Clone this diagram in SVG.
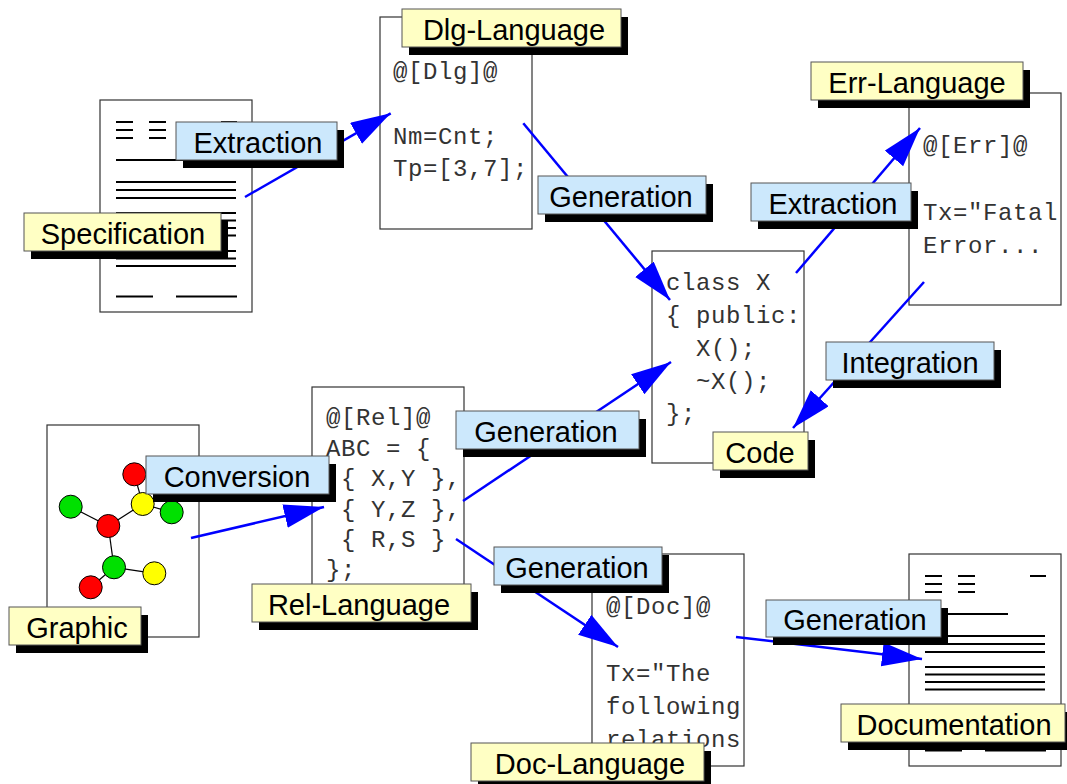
<svg xmlns="http://www.w3.org/2000/svg" xmlns:xlink="http://www.w3.org/1999/xlink" width="1067" height="784" viewBox="0 0 1067 784">
<style>
.doc{fill:#fff;stroke:#333;stroke-width:1.2}
.pl{stroke:#000;stroke-width:2.2;fill:none}
.code{font-family:"Liberation Mono","Courier New",monospace;font-size:24px;letter-spacing:0.6px;fill:#333;white-space:pre}
.sh{fill:#000}
.ly{fill:#ffffc4;stroke:#555;stroke-width:1}
.lb{fill:#cce8fc;stroke:#555;stroke-width:1}
.lt{font-family:"Liberation Sans",Arial,sans-serif;font-size:29px;text-anchor:middle;fill:#000}
.edge{stroke:#0000ff;stroke-width:2.5;fill:none;marker-end:url(#ah)}
.ge{stroke:#000;stroke-width:1.2}
.nd{stroke:#000;stroke-width:1}
</style>
<defs>
<marker id="ah" markerUnits="userSpaceOnUse" markerWidth="42" markerHeight="26" refX="40" refY="12" orient="auto">
<path d="M0,0 L40,12 L0,24 Z" fill="#0000ff"/>
</marker>
<g id="page">
<path class="pl" d="M16,22H33M16,30H33M16,38H33M49,22H66M49,30H66M49,38H66M121,22H137M16,60H99M16,82H136M16,90H136M16,98H136M16,113H136M16,120.5H136M16,128H136M16,135.5H136M16,151H136M16,158.5H136M16,166H136M16,196.5H53M76,196.5H137"/>
</g>
</defs>

<g id="specification">
<rect class="doc" x="100" y="100" width="152" height="212"/>
<use href="#page" x="100" y="100"/>
<rect class="sh" x="31" y="221" width="197" height="38"/>
<rect class="ly" x="24" y="213" width="197" height="38"/>
<text class="lt" x="123" y="243.5">Specification</text>
</g>

<g id="dlg-language">
<rect class="doc" x="380" y="17" width="152" height="212"/>
<text class="code" x="393" y="79">@[Dlg]@</text>
<text class="code" x="393" y="144">Nm=Cnt;</text>
<text class="code" x="393" y="176">Tp=[3,7];</text>
<rect class="sh" x="409" y="17" width="219" height="38"/>
<rect class="ly" x="402" y="9" width="219" height="38"/>
<text class="lt" x="514" y="40">Dlg-Language</text>
</g>

<g id="err-language">
<rect class="doc" x="909" y="93" width="152" height="212"/>
<text class="code" x="923" y="153">@[Err]@</text>
<text class="code" x="923" y="220">Tx="Fatal</text>
<text class="code" x="923" y="253">Error...</text>
<rect class="sh" x="818" y="70" width="212" height="38"/>
<rect class="ly" x="811" y="62" width="212" height="38"/>
<text class="lt" x="917" y="93">Err-Language</text>
</g>

<g id="code">
<rect class="doc" x="652" y="251" width="152" height="212"/>
<text class="code" x="666" y="290">class X</text>
<text class="code" x="666" y="323" xml:space="preserve">{ public:</text>
<text class="code" x="666" y="356" xml:space="preserve">  X();</text>
<text class="code" x="666" y="389" xml:space="preserve">  ~X();</text>
<text class="code" x="666" y="421">};</text>
<rect class="sh" x="720" y="440" width="95" height="38"/>
<rect class="ly" x="713" y="432" width="95" height="38"/>
<text class="lt" x="760" y="463">Code</text>
</g>

<g id="graphic">
<rect class="doc" x="47" y="425" width="152" height="212"/>
<g class="ge">
<line x1="70.7" y1="506.7" x2="108.3" y2="526"/>
<line x1="108.3" y1="526" x2="142.7" y2="504"/>
<line x1="142.7" y1="504" x2="134.3" y2="474.3"/>
<line x1="142.7" y1="504" x2="171.7" y2="512.3"/>
<line x1="108.3" y1="526" x2="114" y2="567.3"/>
<line x1="114" y1="567.3" x2="154.3" y2="573.3"/>
<line x1="114" y1="567.3" x2="90.7" y2="587.3"/>
</g>
<circle class="nd" cx="134.3" cy="474.3" r="11.5" fill="#ff0000"/>
<circle class="nd" cx="70.7" cy="506.7" r="11.5" fill="#00e000"/>
<circle class="nd" cx="142.7" cy="504" r="11.5" fill="#ffff00"/>
<circle class="nd" cx="171.7" cy="512.3" r="11.5" fill="#00e000"/>
<circle class="nd" cx="108.3" cy="526" r="11.5" fill="#ff0000"/>
<circle class="nd" cx="114" cy="567.3" r="11.5" fill="#00e000"/>
<circle class="nd" cx="154.3" cy="573.3" r="11.5" fill="#ffff00"/>
<circle class="nd" cx="90.7" cy="587.3" r="11.5" fill="#ff0000"/>
<rect class="sh" x="16" y="615" width="132" height="38"/>
<rect class="ly" x="9" y="607" width="132" height="38"/>
<text class="lt" x="77" y="638">Graphic</text>
</g>

<g id="rel-language">
<rect class="doc" x="312" y="387" width="152" height="212"/>
<text class="code" x="326" y="425">@[Rel]@</text>
<text class="code" x="326" y="455.5" xml:space="preserve">ABC = {</text>
<text class="code" x="326" y="486" xml:space="preserve"> { X,Y },</text>
<text class="code" x="326" y="516.5" xml:space="preserve"> { Y,Z },</text>
<text class="code" x="326" y="546.5" xml:space="preserve"> { R,S }</text>
<text class="code" x="326" y="577">};</text>
<rect class="sh" x="259" y="592" width="219" height="38"/>
<rect class="ly" x="252" y="584" width="219" height="38"/>
<text class="lt" x="359" y="615">Rel-Language</text>
</g>

<g id="doc-language">
<rect class="doc" x="592" y="554" width="152" height="212"/>
<text class="code" x="606" y="614">@[Doc]@</text>
<text class="code" x="606" y="680.5">Tx="The</text>
<text class="code" x="606" y="713.5">following</text>
<text class="code" x="606" y="746.5">relations</text>
<rect class="sh" x="478" y="751" width="233" height="38"/>
<rect class="ly" x="471" y="743" width="233" height="38"/>
<text class="lt" x="590" y="774">Doc-Language</text>
</g>

<g id="documentation">
<rect class="doc" x="909" y="554" width="152" height="212"/>
<use href="#page" x="909" y="554"/>
<rect class="sh" x="848" y="712" width="224" height="38"/>
<rect class="ly" x="841" y="704" width="224" height="38"/>
<text class="lt" x="954" y="735">Documentation</text>
</g>

<g id="connectors">
<line class="edge" x1="245" y1="197" x2="390.7" y2="113.3"/>
<line class="edge" x1="523.3" y1="123.3" x2="670" y2="300"/>
<line class="edge" x1="796" y1="273" x2="920" y2="128"/>
<line class="edge" x1="924" y1="282" x2="793" y2="428"/>
<line class="edge" x1="191" y1="538" x2="324" y2="507"/>
<line class="edge" x1="463" y1="501" x2="671" y2="362"/>
<line class="edge" x1="456" y1="539" x2="618" y2="647"/>
<line class="edge" x1="736" y1="637" x2="922" y2="659"/>
</g>

<g id="connector-labels">
<rect class="sh" x="183" y="130" width="161" height="38"/>
<rect class="lb" x="176" y="122" width="161" height="38"/>
<text class="lt" x="258" y="153">Extraction</text>

<rect class="sh" x="545" y="184" width="168" height="38"/>
<rect class="lb" x="538" y="176" width="168" height="38"/>
<text class="lt" x="621" y="207">Generation</text>

<rect class="sh" x="758" y="191" width="160" height="38"/>
<rect class="lb" x="751" y="183" width="160" height="38"/>
<text class="lt" x="833" y="214">Extraction</text>

<rect class="sh" x="833" y="350" width="168" height="38"/>
<rect class="lb" x="826" y="342" width="168" height="38"/>
<text class="lt" x="910" y="373">Integration</text>

<rect class="sh" x="153" y="464" width="183" height="38"/>
<rect class="lb" x="146" y="456" width="183" height="38"/>
<text class="lt" x="237" y="487">Conversion</text>

<rect class="sh" x="463" y="419" width="183" height="38"/>
<rect class="lb" x="456" y="411" width="183" height="38"/>
<text class="lt" x="546" y="442">Generation</text>

<rect class="sh" x="501" y="555" width="168" height="38"/>
<rect class="lb" x="494" y="547" width="168" height="38"/>
<text class="lt" x="577" y="578">Generation</text>

<rect class="sh" x="773" y="608" width="175" height="37"/>
<rect class="lb" x="766" y="600" width="175" height="37"/>
<text class="lt" x="855" y="630">Generation</text>
</g>
</svg>
